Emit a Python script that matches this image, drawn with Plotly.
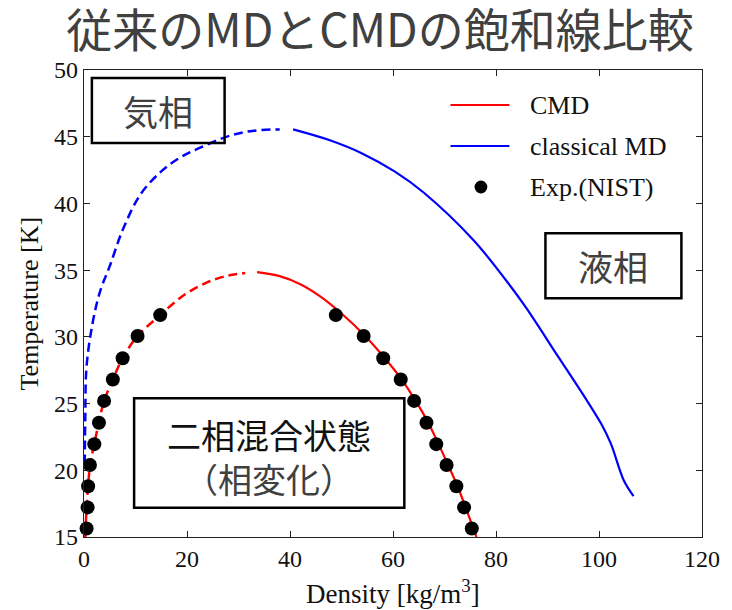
import plotly.graph_objects as go

# Saturation curves: density [kg/m3] vs temperature [K]
cmd_vap_rho = [0.25, 0.5, 0.8, 1.2, 2.0, 2.9, 3.9, 5.6, 7.5, 10.4, 14.8, 19.3, 24.0, 28.0, 31.3]
cmd_vap_T = [15.0, 17.2, 18.9, 20.4, 22.0, 23.6, 25.2, 26.8, 28.4, 30.06, 31.63, 33.1, 34.1, 34.6, 34.78]
cmd_liq_rho = [33.6, 38.0, 42.0, 46.0, 50.0, 54.5, 58.3, 61.7, 64.4, 66.8, 68.8, 70.7, 72.5, 74.1, 75.6, 76.2]
cmd_liq_T = [34.85, 34.55, 33.95, 33.0, 31.75, 30.1, 28.45, 26.8, 25.2, 23.6, 22.0, 20.4, 18.84, 17.22, 15.64, 15.0]

md_vap_rho = [0.15, 0.25, 0.5, 1.8, 3.2, 5.0, 7.5, 11.0, 15.0, 18.5, 22.1, 28.5, 33.0, 38.0]
md_vap_T = [20.5, 24.0, 27.8, 31.3, 33.5, 35.3, 38.0, 40.7, 42.4, 43.4, 44.1, 45.1, 45.45, 45.55]
md_liq_rho = [40.6, 47.6, 54.0, 60.3, 66.0, 75.6, 81.9, 85.7, 92.1, 97.2, 100.4, 102.3, 104.8, 106.7]
md_liq_T = [45.55, 44.75, 43.75, 42.4, 40.8, 37.26, 34.26, 32.26, 28.5, 25.5, 23.5, 22.0, 19.26, 18.07]

# NIST experimental saturation data (vapour and liquid branches at the same temperatures)
nist_T = [15.64, 17.22, 18.8, 20.4, 21.96, 23.56, 25.2, 26.8, 28.4, 30.06, 31.63]
nist_vap_rho = [0.5, 0.7, 0.8, 1.15, 2.0, 2.9, 3.9, 5.6, 7.5, 10.4, 14.8]
nist_liq_rho = [75.3, 73.8, 72.3, 70.4, 68.4, 66.5, 64.1, 61.5, 58.1, 54.3, 48.9]

x_ticks = [0, 20, 40, 60, 80, 100, 120]
y_ticks = [15, 20, 25, 30, 35, 40, 45, 50]

RED = "#ff0000"
BLUE = "#0000ff"
SERIF = "Liberation Serif, Times New Roman, serif"
CJK = "Noto Sans CJK JP, sans-serif"
DARK = "#404040"
INK = "#111111"
DASH = "9px,5px"

fig = go.Figure()

fig.add_trace(go.Scatter(x=md_vap_rho, y=md_vap_T, mode="lines", line=dict(color=BLUE, width=2.5, dash=DASH),
                         line_shape="spline", showlegend=False, hoverinfo="skip"))
fig.add_trace(go.Scatter(x=md_liq_rho, y=md_liq_T, mode="lines", line=dict(color=BLUE, width=2.2),
                         line_shape="spline", name="classical MD", showlegend=False))
fig.add_trace(go.Scatter(x=cmd_vap_rho, y=cmd_vap_T, mode="lines", line=dict(color=RED, width=2.5, dash=DASH),
                         line_shape="spline", showlegend=False, hoverinfo="skip"))
fig.add_trace(go.Scatter(x=cmd_liq_rho, y=cmd_liq_T, mode="lines", line=dict(color=RED, width=2.2),
                         line_shape="spline", name="CMD", showlegend=False))
fig.add_trace(go.Scatter(x=nist_vap_rho + nist_liq_rho, y=nist_T + nist_T, mode="markers",
                         marker=dict(color="black", size=14), name="Exp.(NIST)", showlegend=False,
                         cliponaxis=False))

# Plot-area geometry in pixels (for legend placement)
L, R, T, B = 84, 19, 70, 73
W, H = 732 - L - R, 610 - T - B


def px(xp):
    return (xp - L) / W


def py(yp):
    return (610 - B - yp) / H


shapes = []
annotations = []

# Hand-drawn legend
legend_rows = [("CMD", RED, "line", 105), ("classical MD", BLUE, "line", 146), ("Exp.(NIST)", "black", "dot", 187)]
for label, color, kind, yp in legend_rows:
    if kind == "line":
        shapes.append(dict(type="line", xref="paper", yref="paper", x0=px(457), x1=px(517), y0=py(yp), y1=py(yp),
                           line=dict(color=color, width=2.2)))
    else:
        shapes.append(dict(type="circle", xref="paper", yref="paper", x0=px(481.5), x1=px(494.5),
                           y0=py(yp + 6.5), y1=py(yp - 6.5), fillcolor="black", line=dict(width=0)))
    annotations.append(dict(x=px(536), y=py(yp), xref="paper", yref="paper", text=label, showarrow=False,
                            xanchor="left", yanchor="middle", font=dict(family=SERIF, size=26, color=INK)))

# Phase-region label boxes
boxes = [
    (1.53, 27.3, 44.53, 49.4),
    (89.6, 116.0, 32.9, 37.76),
    (9.73, 62.2, 17.19, 25.39),
]
for x0, x1, y0, y1 in boxes:
    shapes.append(dict(type="rect", xref="x", yref="y", x0=x0, x1=x1, y0=y0, y1=y1,
                       line=dict(color="black", width=2.5), fillcolor="rgba(0,0,0,0)", layer="above"))

region_labels = [
    ("気相", 14.4, 47.0, DARK),
    ("液相", 102.8, 35.35, DARK),
]
for txt, x, y, c in region_labels:
    annotations.append(dict(x=x, y=y, xref="x", yref="y", text=txt, showarrow=False,
                            font=dict(family=CJK, size=35, color=c)))

# Two-line label of the coexistence region
annotations.append(dict(x=36.0, y=21.05, xref="x", yref="y", showarrow=False, align="center",
                        text=f"<span style='color:{INK}'>二相混合状態</span><br>"
                             f"<span style='color:{DARK}'>（相変化）</span>",
                        font=dict(family=CJK, size=34, color=DARK)))

# Axis titles placed as annotations for exact positioning
annotations.append(dict(x=0.5, y=py(592), xref="paper", yref="paper", text="Density [kg/m<sup>3</sup>]",
                        showarrow=False, xanchor="center", yanchor="middle",
                        font=dict(family=SERIF, size=27, color=INK)))
annotations.append(dict(x=px(29), y=0.5, xref="paper", yref="paper", text="Temperature [K]", textangle=-90,
                        showarrow=False, xanchor="center", yanchor="middle",
                        font=dict(family=SERIF, size=26, color=INK)))

fig.update_layout(
    width=732, height=610,
    margin=dict(l=L, r=R, t=T, b=B),
    paper_bgcolor="white", plot_bgcolor="white",
    title=dict(text="従来のMDとCMDの飽和線比較", x=380 / 732, xref="container", xanchor="center",
               y=1 - 31 / 610, yref="container", yanchor="middle",
               font=dict(family=CJK, size=46, color=DARK)),
    shapes=shapes, annotations=annotations,
    showlegend=False,
)

axis_common = dict(
    showline=True, mirror="ticks", linecolor="#222222", linewidth=1.2,
    ticks="inside", ticklen=6, tickcolor="#222222", tickwidth=1,
    showgrid=False, zeroline=False,
    tickfont=dict(family=SERIF, size=24, color=INK),
)

fig.update_xaxes(range=[0, 120], tickvals=x_ticks, ticktext=[str(v) for v in x_ticks], **axis_common)
fig.update_yaxes(range=[15, 50], tickvals=y_ticks, ticktext=[str(v) for v in y_ticks], **axis_common)

fig.write_html("out.html")
